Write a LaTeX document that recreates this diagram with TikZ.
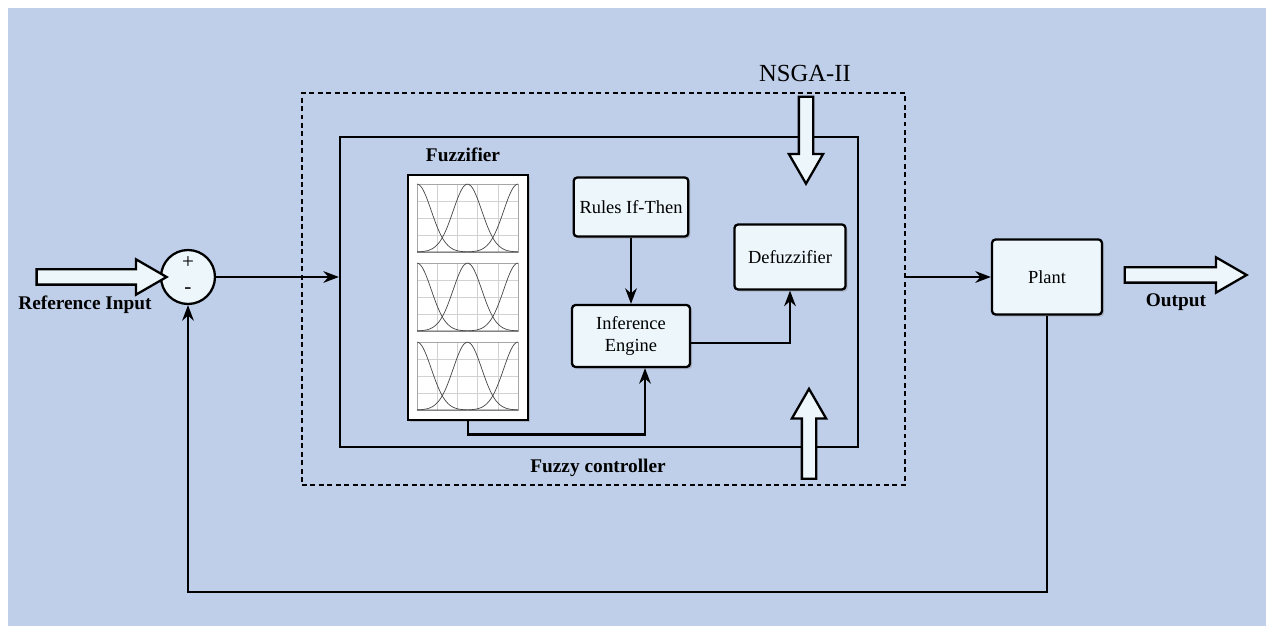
\documentclass[tikz,border=0pt]{standalone}
\usepackage{fontspec}
\setmainfont{Liberation Serif}
\usetikzlibrary{arrows.meta, positioning, shapes.arrows, shadows, calc}
\definecolor{bgBlue}{RGB}{191,207,234}
\definecolor{boxFill}{RGB}{236,246,251}
\tikzset{
    >=Stealth,
    % Blocks
    blk/.style={rectangle, draw, line width=1.3pt, rounded corners=2pt, fill=boxFill,
                align=center, font=\fontsize{10.5}{12.5}\selectfont,
                drop shadow={opacity=0.35, shadow xshift=1.2pt, shadow yshift=-1.2pt}},
    sumnode/.style={circle, draw, line width=1.3pt, fill=boxFill, minimum size=1.08cm, inner sep=0pt},
    hollow/.style={single arrow, draw, line width=1.3pt, fill=boxFill, inner xsep=0pt,
                   inner ysep=0.13cm, single arrow head extend=0.2cm,
                   single arrow tip angle=60, minimum width=0pt},
    grp/.style={rectangle, draw, line width=1.3pt, dash pattern=on 2.8pt off 2pt},
    % Flow & Labels
    flow/.style={->, line width=1.3pt},
    lbl/.style={font=\bfseries\fontsize{11}{13}\selectfont},
    curve/.style={gray!55!black, line width=0.4pt, domain=0:1, samples=40, smooth}
}
\begin{document}
\begin{tikzpicture}[x=0.02cm, y=-0.02cm]

% background
\fill[white] (0,0) rectangle (1274,634);
\fill[bgBlue] (8,8) rectangle (1266,626);

% NSGA-II frame and fuzzy controller
\node[grp, minimum width=12.06cm, minimum height=7.84cm] (ga) at (603.5,289) {};
\node[rectangle, draw, line width=1.3pt, minimum width=10.36cm, minimum height=6.2cm] (fc) at (599,292) {};
\node[font=\fontsize{14}{16}\selectfont] (galbl) at (805,73) {NSGA-II};
\node[lbl] (fclbl) at (598,468) {Fuzzy controller};

% fuzzifier membership plots
\node[lbl] (fuzzlbl) at (463,155) {Fuzzifier};
\node[rectangle, draw, line width=1.6pt, fill=white, minimum width=2.4cm, minimum height=4.9cm,
      drop shadow={opacity=0.35, shadow xshift=1.2pt, shadow yshift=-1.2pt}] (fuzz) at (468,297.5) {};
\foreach \b in {252,331,410}{
  \begin{scope}[shift={(417,\b)}, x=2.02cm, y=1.36cm]
    \foreach \g in {0.2,0.4,0.6,0.8}
      \draw[gray!35, line width=0.2pt] (\g,0) -- (\g,1);
    \foreach \g in {0.25,0.5,0.75}
      \draw[gray!35, line width=0.2pt] (0,\g) -- (1,\g);
    \draw[gray!70, line width=0.3pt] (0,0) rectangle (1,1);
    \draw[curve] plot (\x,{exp(-((\x)/0.2)^2)});
    \draw[curve] plot (\x,{exp(-((\x-0.5)/0.2)^2)});
    \draw[curve] plot (\x,{exp(-((\x-1)/0.2)^2)});
  \end{scope}
}

% blocks
\node[blk, minimum width=2.26cm, minimum height=1.18cm] (rules) at (631,207) {Rules If-Then};
\node[blk, minimum width=2.36cm, minimum height=1.24cm] (infer) at (631,336) {Inference\\Engine};
\node[blk, minimum width=2.22cm, minimum height=1.3cm] (defuzz) at (790,257) {Defuzzifier};
\node[blk, minimum width=2.2cm, minimum height=1.5cm] (plant) at (1047,277) {Plant};
\node[sumnode] (sum) at (188,277) {};
\node[font=\fontsize{12}{12}\selectfont] (plus) at (188,263) {+};
\node[font=\fontsize{12}{12}\selectfont] (minus) at (188,291) {-};

% hollow arrows
\node[hollow, minimum height=2.6cm] (refin) at (95,277) {};
\node[lbl] (reflbl) at (85,305) {Reference Input};
\node[hollow, minimum height=2.44cm] (outarr) at (1179,275) {};
\node[lbl] (outlbl) at (1176,302) {Output};
\node[hollow, rotate=-90, minimum height=1.74cm, inner ysep=0.12cm] (gadown) at (806,134) {};
\node[hollow, rotate=90, minimum height=1.8cm, inner ysep=0.12cm] (gaup) at (809,440) {};

% connections
\draw[flow] (sum.east) -- (sum.east -| fc.west);
\draw[flow] (rules) -- (infer);
\draw[flow] ([yshift=-0.14cm]infer.east) -| (defuzz.south);
\draw[flow] (fuzz.south) -- ++(0,13) -| ([xshift=0.28cm]infer.south);
\draw[flow] (ga.east |- plant.west) -- (plant.west);
\coordinate (fb) at (188,592);
\draw[flow] (plant.south) |- (fb) -- (sum.south);

\end{tikzpicture}
\end{document}
